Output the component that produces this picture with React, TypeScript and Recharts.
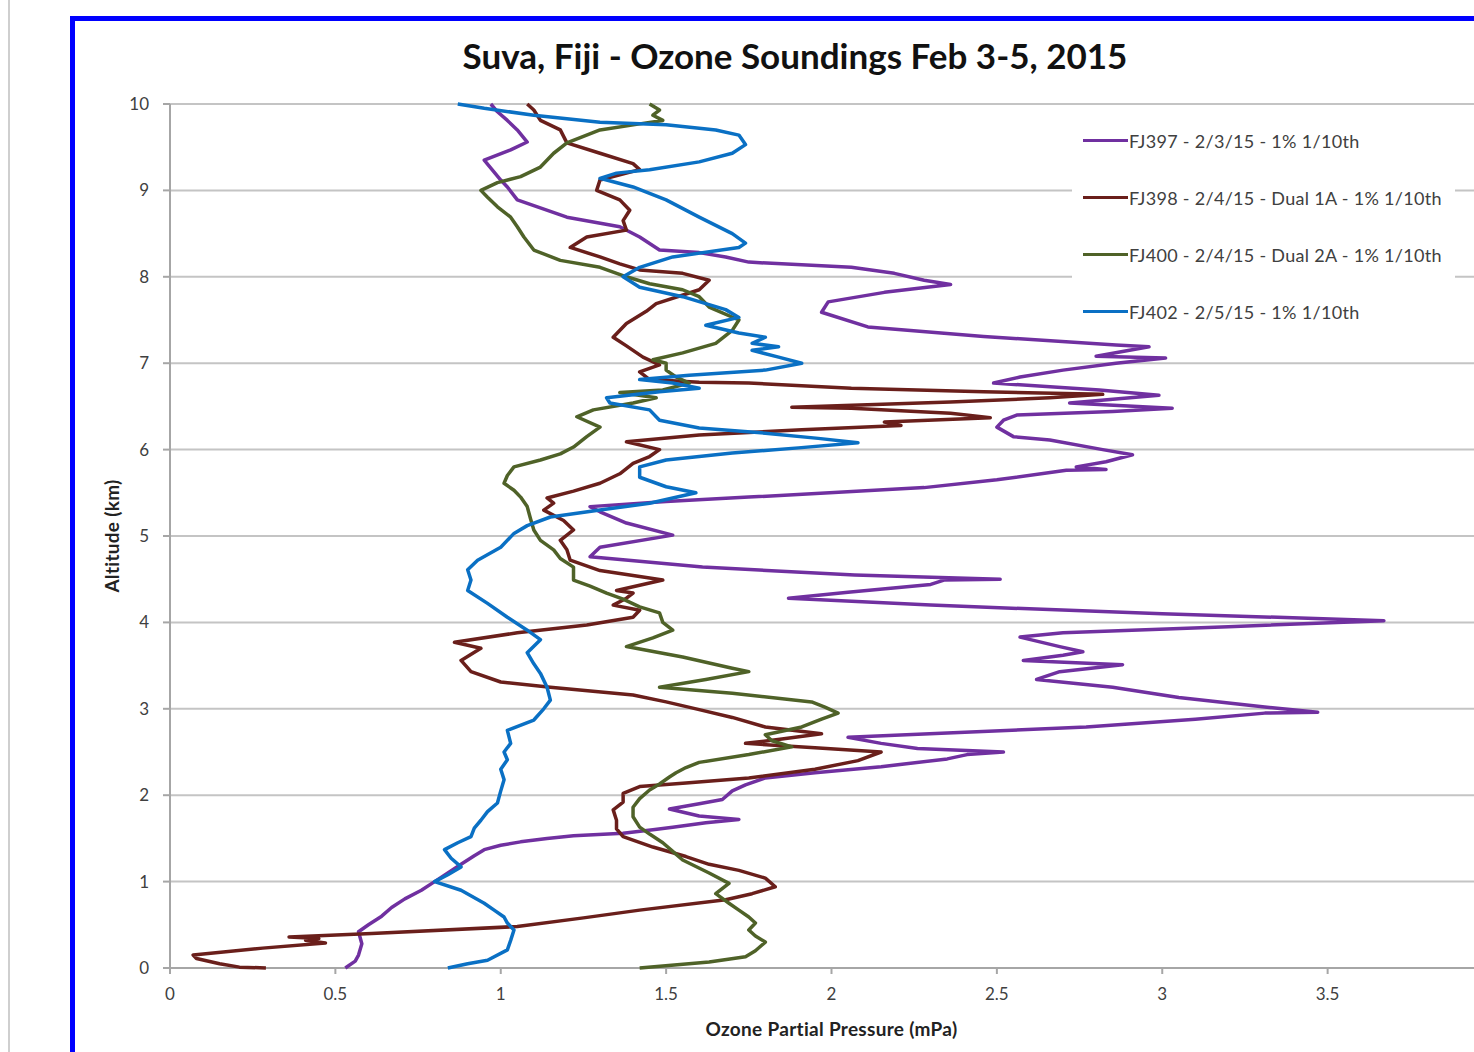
import React from 'react';
import { ScatterChart, Scatter, XAxis, YAxis, CartesianGrid, Legend, Label } from 'recharts';

// [altitude km, ozone partial pressure mPa]
const FJ397: [number, number][] = [
  [0, 0.53], [0.08, 0.56], [0.15, 0.57], [0.28, 0.58], [0.42, 0.57], [0.5, 0.6], [0.6, 0.64], [0.7, 0.67],
  [0.8, 0.71], [0.9, 0.76], [1.0, 0.8], [1.1, 0.84], [1.2, 0.88], [1.3, 0.92], [1.37, 0.95], [1.42, 1.0],
  [1.46, 1.06], [1.5, 1.14], [1.53, 1.22], [1.56, 1.37], [1.6, 1.46], [1.63, 1.52], [1.68, 1.62], [1.72, 1.72],
  [1.76, 1.6], [1.84, 1.51], [1.9, 1.6], [1.95, 1.67], [2.05, 1.7], [2.12, 1.74], [2.2, 1.8], [2.26, 1.95],
  [2.33, 2.15], [2.42, 2.35], [2.47, 2.41], [2.5, 2.52], [2.54, 2.26], [2.6, 2.15], [2.67, 2.05], [2.72, 2.35],
  [2.79, 2.77], [2.88, 3.1], [2.95, 3.31], [2.96, 3.47], [3.02, 3.31], [3.13, 3.05], [3.25, 2.85], [3.34, 2.62],
  [3.43, 2.69], [3.51, 2.88], [3.56, 2.58], [3.62, 2.7], [3.66, 2.76], [3.72, 2.69], [3.83, 2.57], [3.88, 2.7],
  [3.95, 3.2], [4.02, 3.67], [4.1, 3.0], [4.2, 2.3], [4.28, 1.87], [4.35, 2.05], [4.44, 2.3], [4.49, 2.34],
  [4.5, 2.51], [4.55, 2.07], [4.64, 1.61], [4.76, 1.27], [4.87, 1.3], [5.01, 1.52], [5.15, 1.38], [5.28, 1.3],
  [5.34, 1.27], [5.4, 1.5], [5.45, 1.75], [5.56, 2.28], [5.65, 2.5], [5.76, 2.71], [5.77, 2.83], [5.8, 2.74],
  [5.86, 2.83], [5.94, 2.91], [6.0, 2.82], [6.11, 2.66], [6.15, 2.55], [6.26, 2.5], [6.34, 2.52], [6.4, 2.56],
  [6.44, 2.85], [6.48, 3.03], [6.54, 2.72], [6.63, 2.99], [6.69, 2.81], [6.77, 2.49], [6.84, 2.57], [6.92, 2.7],
  [7.0, 2.86], [7.06, 3.01], [7.08, 2.8], [7.19, 2.96], [7.21, 2.86], [7.31, 2.46], [7.42, 2.11], [7.59, 1.97],
  [7.71, 1.99], [7.82, 2.16], [7.91, 2.36], [7.96, 2.28], [8.04, 2.19], [8.11, 2.06], [8.17, 1.75], [8.23, 1.68],
  [8.28, 1.6], [8.31, 1.48], [8.46, 1.42], [8.58, 1.36], [8.69, 1.2], [8.89, 1.05], [9.04, 1.02], [9.12, 1.0],
  [9.35, 0.95], [9.47, 1.03], [9.56, 1.08], [9.7, 1.05], [9.81, 1.02], [9.91, 0.99], [10, 0.97],
];

const FJ398: [number, number][] = [
  [0, 0.29], [0.01, 0.21], [0.05, 0.15], [0.11, 0.08], [0.15, 0.07], [0.23, 0.28], [0.29, 0.47], [0.32, 0.41],
  [0.34, 0.45], [0.36, 0.36], [0.4, 0.61], [0.48, 1.05], [0.58, 1.25], [0.67, 1.42], [0.79, 1.68], [0.86, 1.76],
  [0.94, 1.83], [1.04, 1.8], [1.13, 1.72], [1.2, 1.63], [1.29, 1.56], [1.4, 1.46], [1.52, 1.37], [1.61, 1.35],
  [1.71, 1.35], [1.83, 1.34], [1.92, 1.37], [2.02, 1.37], [2.1, 1.42], [2.14, 1.56], [2.2, 1.75], [2.3, 1.95],
  [2.4, 2.08], [2.5, 2.15], [2.55, 1.95], [2.6, 1.74], [2.65, 1.85], [2.71, 1.97], [2.79, 1.8], [2.9, 1.7],
  [2.99, 1.6], [3.08, 1.5], [3.16, 1.4], [3.25, 1.15], [3.31, 1.0], [3.43, 0.91], [3.56, 0.88], [3.7, 0.94],
  [3.77, 0.86], [3.88, 1.05], [3.97, 1.26], [4.06, 1.4], [4.14, 1.42], [4.2, 1.34], [4.28, 1.38], [4.34, 1.4],
  [4.37, 1.35], [4.49, 1.49], [4.6, 1.3], [4.72, 1.21], [4.84, 1.2], [4.95, 1.18], [5.07, 1.22], [5.18, 1.19],
  [5.3, 1.13], [5.38, 1.16], [5.44, 1.14], [5.52, 1.22], [5.61, 1.3], [5.72, 1.36], [5.84, 1.4], [5.92, 1.45],
  [6.0, 1.48], [6.09, 1.38], [6.17, 1.6], [6.23, 1.91], [6.28, 2.21], [6.32, 2.16], [6.37, 2.48], [6.42, 2.36],
  [6.48, 2.06], [6.49, 1.88], [6.55, 2.36], [6.6, 2.66], [6.64, 2.82], [6.67, 2.46], [6.71, 2.06], [6.77, 1.75],
  [6.78, 1.6], [6.81, 1.45], [6.9, 1.42], [6.98, 1.48], [7.07, 1.43], [7.2, 1.38], [7.3, 1.34], [7.46, 1.38],
  [7.6, 1.44], [7.69, 1.47], [7.85, 1.6], [7.96, 1.63], [8.04, 1.55], [8.08, 1.42], [8.15, 1.36], [8.23, 1.3],
  [8.34, 1.21], [8.46, 1.26], [8.54, 1.38], [8.65, 1.37], [8.77, 1.39], [8.89, 1.36], [9.0, 1.29], [9.12, 1.3],
  [9.24, 1.42], [9.31, 1.4], [9.43, 1.3], [9.55, 1.2], [9.7, 1.18], [9.81, 1.12], [9.93, 1.1], [10, 1.08],
];

const FJ400: [number, number][] = [
  [0, 1.42], [0.07, 1.63], [0.13, 1.74], [0.2, 1.77], [0.3, 1.8], [0.37, 1.77], [0.44, 1.75], [0.52, 1.77],
  [0.59, 1.75], [0.67, 1.72], [0.75, 1.69], [0.86, 1.65], [0.98, 1.69], [1.1, 1.63], [1.25, 1.55], [1.35, 1.52],
  [1.45, 1.49], [1.55, 1.45], [1.63, 1.42], [1.75, 1.4], [1.86, 1.4], [1.96, 1.42], [2.06, 1.45], [2.13, 1.48],
  [2.21, 1.51], [2.26, 1.53], [2.32, 1.56], [2.38, 1.6], [2.47, 1.75], [2.56, 1.88], [2.63, 1.82], [2.7, 1.8],
  [2.79, 1.91], [2.88, 1.97], [2.95, 2.02], [3.02, 1.98], [3.08, 1.94], [3.18, 1.7], [3.25, 1.48], [3.34, 1.62],
  [3.43, 1.75], [3.47, 1.7], [3.6, 1.55], [3.72, 1.38], [3.82, 1.46], [3.91, 1.52], [4.0, 1.49], [4.11, 1.48],
  [4.18, 1.42], [4.27, 1.37], [4.34, 1.32], [4.42, 1.27], [4.49, 1.22], [4.56, 1.22], [4.64, 1.22], [4.74, 1.18],
  [4.84, 1.16], [4.95, 1.12], [5.07, 1.1], [5.2, 1.09], [5.34, 1.08], [5.45, 1.06], [5.53, 1.04], [5.61, 1.01],
  [5.7, 1.02], [5.8, 1.04], [5.88, 1.12], [5.95, 1.18], [6.03, 1.22], [6.15, 1.26], [6.26, 1.3], [6.38, 1.23],
  [6.46, 1.28], [6.54, 1.4], [6.6, 1.47], [6.66, 1.36], [6.69, 1.49], [6.77, 1.57], [6.84, 1.53], [6.92, 1.5],
  [7.0, 1.5], [7.04, 1.46], [7.12, 1.55], [7.23, 1.65], [7.38, 1.7], [7.5, 1.72], [7.65, 1.63], [7.77, 1.6],
  [7.85, 1.55], [7.92, 1.45], [8.0, 1.38], [8.11, 1.3], [8.19, 1.18], [8.31, 1.1], [8.46, 1.07], [8.58, 1.05],
  [8.69, 1.03], [8.81, 0.99], [8.92, 0.96], [9.0, 0.94], [9.09, 0.99], [9.16, 1.06], [9.27, 1.12], [9.43, 1.16],
  [9.55, 1.2], [9.7, 1.3], [9.77, 1.42], [9.81, 1.49], [9.87, 1.46], [9.93, 1.48], [10, 1.45],
];

const FJ402: [number, number][] = [
  [0, 0.84], [0.05, 0.9], [0.09, 0.96], [0.21, 1.02], [0.32, 1.03], [0.44, 1.04], [0.52, 1.02], [0.59, 1.01],
  [0.67, 0.98], [0.75, 0.95], [0.9, 0.88], [1.0, 0.8], [1.08, 0.84], [1.17, 0.88], [1.27, 0.85], [1.37, 0.83],
  [1.45, 0.87], [1.52, 0.91], [1.62, 0.92], [1.71, 0.94], [1.81, 0.96], [1.91, 0.99], [2.05, 1.0], [2.18, 1.01],
  [2.3, 1.0], [2.41, 1.02], [2.5, 1.01], [2.6, 1.03], [2.75, 1.02], [2.87, 1.1], [3.0, 1.13], [3.1, 1.15],
  [3.25, 1.14], [3.41, 1.12], [3.52, 1.1], [3.65, 1.08], [3.8, 1.12], [3.91, 1.08], [4.06, 1.02], [4.22, 0.96],
  [4.37, 0.9], [4.49, 0.91], [4.61, 0.9], [4.72, 0.93], [4.87, 1.0], [5.03, 1.04], [5.12, 1.08], [5.22, 1.15],
  [5.3, 1.3], [5.38, 1.45], [5.5, 1.59], [5.57, 1.5], [5.68, 1.42], [5.8, 1.42], [5.88, 1.5], [5.96, 1.7],
  [6.02, 1.9], [6.08, 2.08], [6.13, 1.96], [6.19, 1.8], [6.25, 1.6], [6.34, 1.48], [6.46, 1.45], [6.54, 1.33],
  [6.6, 1.32], [6.67, 1.48], [6.71, 1.6], [6.77, 1.52], [6.81, 1.42], [6.86, 1.57], [6.92, 1.8], [7.0, 1.91],
  [7.07, 1.84], [7.15, 1.76], [7.19, 1.84], [7.23, 1.76], [7.3, 1.8], [7.35, 1.72], [7.44, 1.62], [7.53, 1.72],
  [7.62, 1.68], [7.77, 1.55], [7.88, 1.42], [8.0, 1.37], [8.11, 1.42], [8.23, 1.52], [8.34, 1.72], [8.39, 1.74],
  [8.5, 1.7], [8.69, 1.6], [8.89, 1.5], [9.04, 1.4], [9.14, 1.3], [9.2, 1.35], [9.24, 1.45], [9.33, 1.6],
  [9.43, 1.7], [9.53, 1.74], [9.64, 1.72], [9.7, 1.65], [9.76, 1.5], [9.79, 1.3], [9.87, 1.1], [9.95, 0.95],
  [10, 0.87],
];

// the axis runs to 4 but the picture is cropped before that label
const xTicks = [0, 0.5, 1, 1.5, 2, 2.5, 3, 3.5];
const yTicks = [0, 1, 2, 3, 4, 5, 6, 7, 8, 9, 10];

const series = [
  { name: 'FJ397 - 2/3/15 - 1% 1/10th', color: '#7030a0', points: FJ397 },
  { name: 'FJ398 - 2/4/15 - Dual 1A - 1% 1/10th', color: '#6a1f1b', points: FJ398 },
  { name: 'FJ400 - 2/4/15 - Dual 2A - 1% 1/10th', color: '#4f6228', points: FJ400 },
  { name: 'FJ402 - 2/5/15 - 1% 1/10th', color: '#0a70c4', points: FJ402 },
];

const toRows = (pts: [number, number][]) => pts.map(([alt, o3]) => ({ alt, o3 }));

const font = 'Lato, "Open Sans", sans-serif';
const tickStyle = { fill: '#404040', fontSize: 17, fontFamily: font };

const noDot = () => <g />;

function LegendBox() {
  return (
    <div style={{ background: '#fff', padding: '0 10px 0 11px', fontFamily: font, fontSize: 18, letterSpacing: 0.3, color: '#404040' }}>
      {series.map((s) => (
        <div key={s.name} style={{ display: 'flex', alignItems: 'center', height: 57 }}>
          <span style={{ display: 'inline-block', width: 45, height: 3, background: s.color }} />
          <span style={{ marginLeft: 1 }}>{s.name}</span>
        </div>
      ))}
    </div>
  );
}

export default function App() {
  return (
    <div style={{ position: 'absolute', left: 0, top: 0, width: 1474, height: 1052, overflow: 'hidden', background: '#fff' }}>
      <div style={{ position: 'absolute', left: 8, top: 0, width: 2, height: 1052, background: '#cfcfcf' }} />
      <div style={{ position: 'absolute', left: 70, top: 16, width: 1500, height: 1100, border: '5px solid #0000ff' }} />
      <div
        style={{
          position: 'absolute', left: 295, width: 1000, top: 34, textAlign: 'center',
          fontFamily: font, fontWeight: 700, fontSize: 35, color: '#111',
        }}
      >
        Suva, Fiji - Ozone Soundings Feb 3-5, 2015
      </div>
      <div style={{ position: 'absolute', left: 0, top: 0 }}>
        <ScatterChart width={1600} height={1052} margin={{ top: 104, right: 107, bottom: 24, left: 110 }}>
          <CartesianGrid vertical={false} stroke="#c4c4c4" strokeWidth={2} />
          <XAxis
            type="number"
            dataKey="o3"
            domain={[0, 4]}
            ticks={xTicks}
            height={60}
            tickSize={6}
            tickMargin={14}
            tick={tickStyle}
            stroke="#a6a6a6"
            strokeWidth={2}
          >
            <Label
              value="Ozone Partial Pressure (mPa)"
              position="bottom"
              offset={-5}
              style={{ fontFamily: font, fontWeight: 700, fontSize: 19, letterSpacing: 0.3, fill: '#222' }}
            />
          </XAxis>
          <YAxis
            type="number"
            dataKey="alt"
            domain={[0, 10]}
            ticks={yTicks}
            width={60}
            tickSize={7}
            tickMargin={14}
            tick={tickStyle}
            stroke="#a6a6a6"
            strokeWidth={2}
          >
            <Label
              value="Altitude (km)"
              angle={-90}
              position="insideLeft"
              offset={2}
              style={{ fontFamily: font, fontWeight: 700, fontSize: 19, letterSpacing: 0.3, fill: '#222', textAnchor: 'middle' }}
            />
          </YAxis>
          {series.map((s) => (
            <Scatter
              key={s.name}
              name={s.name}
              data={toRows(s.points)}
              fill={s.color}
              line={{ stroke: s.color, strokeWidth: 3.5, fill: 'none', strokeLinejoin: 'round' }}
              lineJointType="linear"
              shape={noDot}
              isAnimationActive={false}
            />
          ))}
          <Legend
            layout="vertical"
            align="center"
            verticalAlign="middle"
            content={() => <LegendBox />}
            wrapperStyle={{ left: 1072, top: 112, width: 383 }}
          />
        </ScatterChart>
      </div>
    </div>
  );
}
